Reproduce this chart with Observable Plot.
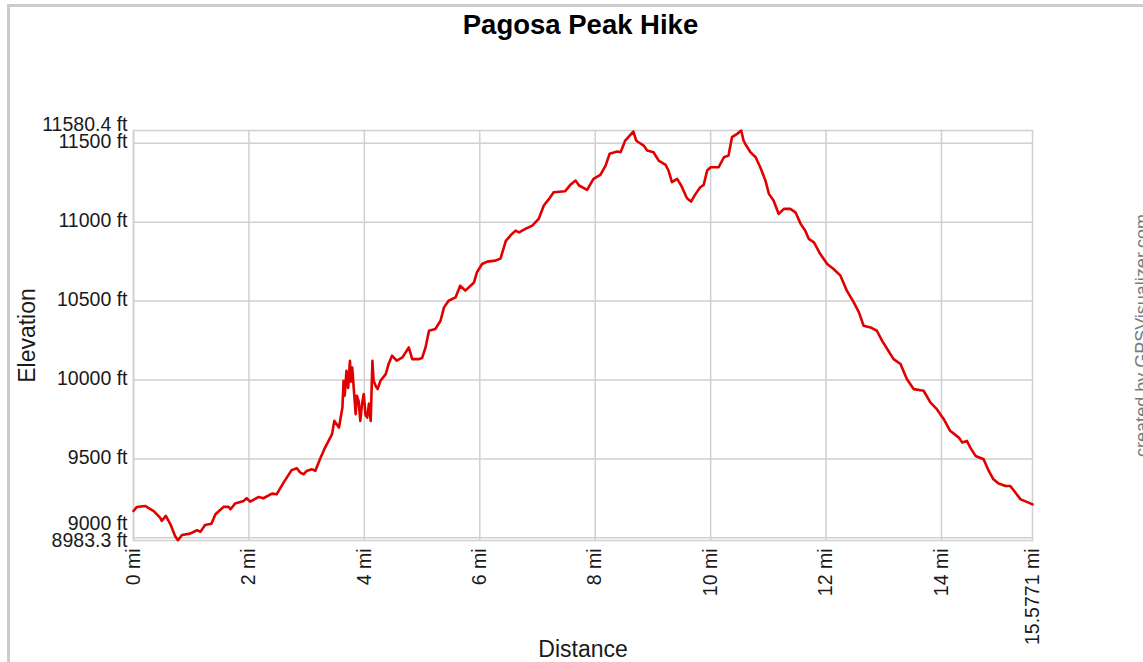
<!DOCTYPE html>
<html>
<head>
<meta charset="utf-8">
<script src="https://cdn.jsdelivr.net/npm/d3@7"></script>
<script src="https://cdn.jsdelivr.net/npm/@observablehq/plot@0.6"></script>
<style>
  html, body { margin: 0; padding: 0; background: #fff; overflow: hidden; }
  #wrap { position: relative; width: 1143px; height: 662px; overflow: hidden; font-family: "Liberation Sans", Arial, sans-serif; }
  #border { position: absolute; left: 7px; top: 4px; width: 2000px; height: 2000px; border-top: 3px solid #cccccc; border-left: 3px solid #cccccc; box-sizing: border-box; }
  #title { position: absolute; top: 9px; left: 0; width: 1161px; text-align: center; font-size: 27.5px; font-weight: bold; color: #000; }
  #chart { position: absolute; left: 0; top: 0; }
</style>
</head>
<body>
<div id="wrap">
  <div id="border"></div>
  <div id="chart"></div>
  <div id="title">Pagosa Peak Hike</div>
</div>
<script>
const titleText = "Pagosa Peak Hike";
const xLabel = "Distance";
const yLabel = "Elevation";
const creditText = "created by GPSVisualizer.com";

const distanceMi = [
  0.00, 0.06, 0.20, 0.35, 0.46, 0.49, 0.56, 0.64, 0.72, 0.77, 0.84, 0.98, 1.10, 1.16, 1.24, 1.35,
  1.42, 1.56, 1.65, 1.68, 1.76, 1.91, 1.96, 2.02, 2.17, 2.25, 2.40, 2.48, 2.60, 2.74, 2.83, 2.89,
  2.95, 3.00, 3.09, 3.15, 3.23, 3.32, 3.38, 3.44, 3.48, 3.56, 3.62, 3.64, 3.66, 3.69, 3.72, 3.75, 3.77, 3.79, 3.82,
  3.85, 3.87, 3.90, 3.93, 3.96, 3.99, 4.02, 4.05, 4.08, 4.11, 4.14, 4.16, 4.20, 4.23, 4.28, 4.37, 4.42, 4.48, 4.56, 4.66, 4.77,
  4.83, 4.94, 5.00, 5.06, 5.12, 5.23, 5.32, 5.38, 5.46, 5.58, 5.66, 5.75, 5.90, 5.95, 6.04, 6.13,
  6.27, 6.36, 6.45, 6.53, 6.62, 6.68, 6.79, 6.91, 7.02, 7.11, 7.20, 7.28, 7.48, 7.57, 7.66, 7.72,
  7.86, 7.97, 8.09, 8.18, 8.25, 8.38, 8.44, 8.52, 8.66, 8.71, 8.75, 8.84, 8.90, 9.01, 9.10, 9.22,
  9.27, 9.33, 9.42, 9.49, 9.59, 9.66, 9.74, 9.82, 9.88, 9.94, 10.00, 10.14, 10.23, 10.31, 10.37, 10.46,
  10.53, 10.57, 10.60, 10.69, 10.78, 10.86, 10.95, 11.01, 11.09, 11.18, 11.27, 11.38, 11.47, 11.56, 11.64, 11.70,
  11.79, 11.90, 12.02, 12.13, 12.25, 12.36, 12.48, 12.57, 12.65, 12.77, 12.88, 12.97, 13.06, 13.17, 13.29, 13.40,
  13.52, 13.69, 13.81, 13.92, 14.04, 14.15, 14.30, 14.36, 14.44, 14.50, 14.59, 14.73, 14.82, 14.90, 14.99, 15.11,
  15.19, 15.28, 15.37, 15.51, 15.5771
];
const elevationFt = [
  9170, 9196, 9202, 9170, 9128, 9107, 9139, 9086, 9012, 8985, 9018, 9027, 9048, 9039, 9082, 9090,
  9150, 9196, 9196, 9181, 9217, 9234, 9251, 9230, 9259, 9251, 9280, 9276, 9350, 9429, 9441, 9413,
  9403, 9424, 9435, 9424, 9498, 9572, 9614, 9657, 9741, 9699, 9826, 9995, 9900, 10058, 9950, 10122, 9990, 10079, 9931,
  9784, 9900, 9868, 9741, 9850, 9911, 9780, 9762, 9850, 9741, 10122, 9995, 9960, 9942, 9995, 10037, 10101, 10154, 10122, 10143, 10206,
  10132, 10132, 10139, 10206, 10312, 10323, 10375, 10460, 10502, 10523, 10597, 10566, 10618, 10682, 10735, 10750,
  10756, 10770, 10880, 10915, 10946, 10935, 10957, 10978, 11020, 11105, 11147, 11189, 11196, 11236, 11263, 11232,
  11204, 11274, 11299, 11358, 11433, 11447, 11443, 11517, 11574, 11517, 11506, 11485, 11454, 11443, 11390, 11363,
  11327, 11253, 11274, 11232, 11151, 11130, 11179, 11221, 11236, 11327, 11348, 11348, 11411, 11422, 11538, 11559,
  11580, 11517, 11496, 11443, 11411, 11348, 11263, 11179, 11137, 11052, 11084, 11084, 11062, 10989, 10946, 10894,
  10872, 10798, 10735, 10703, 10661, 10566, 10492, 10428, 10344, 10333, 10312, 10249, 10196, 10132, 10101, 10006,
  9942, 9932, 9857, 9815, 9752, 9678, 9635, 9604, 9614, 9572, 9519, 9498, 9424, 9371, 9344, 9329,
  9329, 9287, 9244, 9223, 9212
];

const yMin = 8983.3, yMax = 11580.4;
const xMax = 15.5771;
const yTicks = [9500, 10000, 10500, 11000, 11500];
const xTicks = [0, 2, 4, 6, 8, 10, 12, 14, 15.5771];
const xGridTicks = [0, 2, 4, 6, 8, 10, 12, 14];
const yGridTicks = [9000, 9500, 10000, 10500, 11000, 11500];

const data = distanceMi.map((d, i) => ({mi: d, ft: elevationFt[i]}));

const gridColor = "#d0d0d0";
const textColor = "#1a1a1a";
const fs = 19.5;

const chart = Plot.plot({
  width: 1143,
  height: 662,
  marginLeft: 133,
  marginRight: 111,
  marginTop: 130,
  marginBottom: 122,
  style: {fontFamily: '"Liberation Sans", Arial, sans-serif', background: "transparent", color: textColor},
  x: {domain: [0, xMax]},
  y: {domain: [yMin, yMax]},
  marks: [
    Plot.gridX({ticks: xGridTicks, stroke: gridColor, strokeOpacity: 1, strokeWidth: 1.5}),
    Plot.gridY({ticks: yGridTicks, stroke: gridColor, strokeOpacity: 1, strokeWidth: 1.5}),
    Plot.frame({stroke: gridColor, strokeWidth: 1.5}),
    Plot.line(data, {x: "mi", y: "ft", stroke: "#e00000", strokeWidth: 2.6}),
    Plot.axisY({ticks: yTicks, tickSize: 0, tickPadding: 6, tickFormat: d => `${d} ft`, fontSize: fs, dy: -1, label: null, fill: textColor}),
    Plot.axisY({ticks: [yMax], tickSize: 0, tickPadding: 6, tickFormat: d => `${d} ft`, fontSize: fs, dy: -6, label: null, fill: textColor}),
    Plot.axisY({ticks: [9000], tickSize: 0, tickPadding: 6, tickFormat: d => `${d} ft`, fontSize: fs, dy: -14, label: null, fill: textColor}),
    Plot.axisY({ticks: [yMin], tickSize: 0, tickPadding: 6, tickFormat: d => `${d} ft`, fontSize: fs, dy: 0, label: null, fill: textColor}),
    Plot.axisX({ticks: xTicks, tickSize: 0, tickPadding: 8, tickRotate: -90, tickFormat: d => `${d} mi`, fontSize: fs, label: null, fill: textColor}),
    Plot.text([yLabel], {frameAnchor: "left", textAnchor: "middle", lineAnchor: "middle", text: d => d, rotate: -90, dx: -106, fontSize: 23, fill: textColor}),
    Plot.text([xLabel], {frameAnchor: "bottom", textAnchor: "middle", lineAnchor: "middle", text: d => d, dy: 109, fontSize: 23, fill: textColor}),
    Plot.text([creditText], {frameAnchor: "right", textAnchor: "middle", lineAnchor: "middle", text: d => d, rotate: -90, dx: 110, fontSize: 18, fill: "#7a7a7a"})
  ]
});
document.getElementById("chart").appendChild(chart);
document.getElementById("title").textContent = titleText;
</script>
</body>
</html>
